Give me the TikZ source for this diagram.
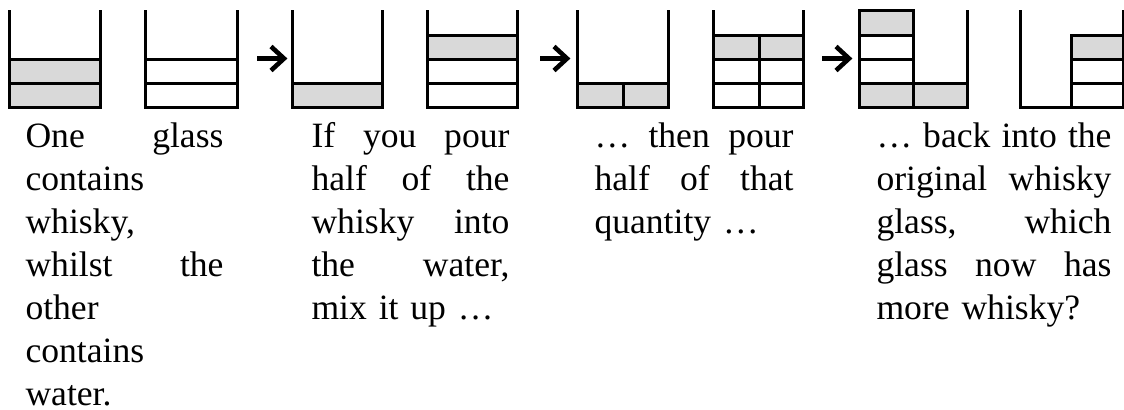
\documentclass[tikz,border=0pt]{standalone}
\usepackage{fontspec}
\setmainfont{Liberation Serif}
\begin{document}
\begin{tikzpicture}[x=0.5pt,y=-0.5pt,line width=1.5pt,
  whisky/.style={fill=black!15},
  pour/.style={line width=2.3pt},
  barb/.style={line width=2.3pt,line join=miter},
  note/.style={anchor=base west,inner sep=0pt,align=left,font=\fontsize{17.8}{21.5}\selectfont}]
\useasboundingbox (0,0) rectangle (1124,409);
% glass 1 and 2
\draw[whisky] (9,59) rectangle (100,83) (9,83) rectangle (100,107);
\draw (145,59) -- (237,59) (145,83) -- (237,83);
\draw (9,10) -- (9,107) -- (100,107) -- (100,10);
\draw (145,10) -- (145,107) -- (237,107) -- (237,10);
% glass 3 and 4
\draw[whisky] (292,83) rectangle (382,107);
\draw[whisky] (427,35) rectangle (517,59);
\draw (427,83) -- (517,83);
\draw (292,10) -- (292,107) -- (382,107) -- (382,10);
\draw (427,10) -- (427,107) -- (517,107) -- (517,10);
% glass 5 and 6
\draw[whisky] (577,83) rectangle (623,107) (623,83) rectangle (668,107);
\draw[whisky] (713,35) rectangle (803,59);
\draw (713,59) -- (803,59) (713,83) -- (803,83) (759,35) -- (759,107);
\draw (577,10) -- (577,107) -- (668,107) -- (668,10);
\draw (713,10) -- (713,107) -- (803,107) -- (803,10);
% glass 7 and 8
\draw[whisky] (859,10) rectangle (913,35) (859,83) rectangle (967,107);
\draw (859,35) -- (913,35) (859,59) -- (913,59) (913,10) -- (913,107);
\draw[whisky] (1071,35) rectangle (1123,59);
\draw (1071,59) -- (1123,59) (1071,83) -- (1123,83) (1071,35) -- (1071,107);
\draw (859,10) -- (859,107) -- (967,107) -- (967,10);
\draw (1020,10) -- (1020,107) -- (1123,107) -- (1123,10);
% arrows
\foreach \n/\x in {A/257,B/540,C/822} {
  \coordinate (pour\n) at (\x,58.5);
  \coordinate (tip\n) at (\x+27,58.5);
  \draw[pour] (pour\n) -- (tip\n);
  \draw[barb] ([shift={(-13,-12)}]tip\n) -- (tip\n) -- ([shift={(-13,12)}]tip\n);
}
% captions
\node[note,text width=99pt] (stepA) at (24,147)
  {One\hfill glass\\contains\\whisky,\\whilst\hfill the\\other\\contains\\water.};
\node[note,text width=99pt] (stepB) at (310,147)
  {If\hfill you\hfill pour\\half\hfill of\hfill the\\whisky\hfill into\\the\hfill water,\\mix it up …};
\node[note,text width=99.5pt] (stepC) at (593,147)
  {…\hfill then\hfill pour\\half\hfill of\hfill that\\quantity …};
\node[note,text width=117.5pt] (stepD) at (875,147)
  {…\hfill back\hfill into\hfill the\\original\hfill whisky\\glass,\hfill which\\glass\hfill now\hfill has\\more whisky?};
\end{tikzpicture}
\end{document}
